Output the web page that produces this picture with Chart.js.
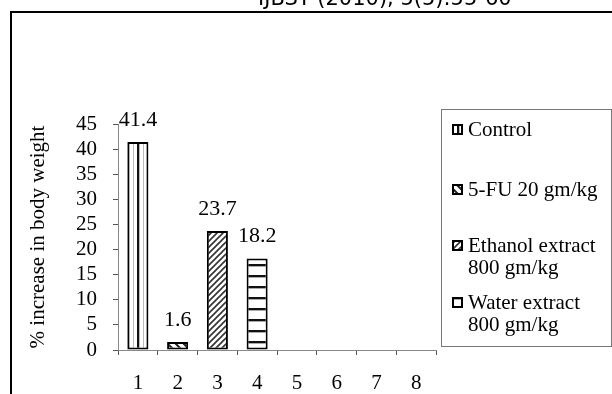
<!DOCTYPE html>
<html>
<head>
<meta charset="utf-8">
<script src="https://cdn.jsdelivr.net/npm/chart.js@4.4.0/dist/chart.umd.min.js"></script>
<style>
  html, body { margin: 0; padding: 0; background: #fff; }
  canvas { display: block; }
</style>
</head>
<body>
<canvas id="weightChart" width="612" height="394"></canvas>
<script>
// data
const categories = ['1', '2', '3', '4', '5', '6', '7', '8'];
const increase = [41.4, 1.6, 23.7, 18.2, null, null, null, null];
const groupNames = [['Control'], ['5-FU 20 gm/kg'], ['Ethanol extract', '800 gm/kg'], ['Water extract', '800 gm/kg']];
const yTicks = [0, 5, 10, 15, 20, 25, 30, 35, 40, 45];
const headerText = 'IJBST (2010), 5(5):55-60';

const serif = '"Liberation Serif", "Times New Roman", serif';

function makePattern(kind) {
    var c = document.createElement('canvas');
    var g = c.getContext('2d');
    if (kind === 'vertical') {
        c.width = 10; c.height = 10;
        g.fillStyle = '#fff'; g.fillRect(0, 0, 10, 10);
        g.fillStyle = '#bbb'; g.fillRect(3, 0, 1, 10); g.fillRect(10 - 1, 0, 1, 10);
        g.fillStyle = '#111'; g.fillRect(7, 0, 2, 10);
    } else if (kind === 'back') {
        c.width = 8; c.height = 8;
        g.fillStyle = '#fff'; g.fillRect(0, 0, 8, 8);
        g.strokeStyle = '#222'; g.lineWidth = 2;
        g.beginPath();
        g.moveTo(-2, -2); g.lineTo(10, 10);
        g.moveTo(-2, 6); g.lineTo(2, 10);
        g.moveTo(6, -2); g.lineTo(10, 2);
        g.stroke();
    } else if (kind === 'forward') {
        c.width = 6; c.height = 6;
        g.fillStyle = '#fff'; g.fillRect(0, 0, 6, 6);
        g.strokeStyle = '#333'; g.lineWidth = 1.6;
        g.beginPath();
        g.moveTo(-1, 7); g.lineTo(7, -1);
        g.moveTo(-1, 1); g.lineTo(1, -1);
        g.moveTo(5, 7); g.lineTo(7, 5);
        g.stroke();
    } else {
        c.width = 11; c.height = 11;
        g.fillStyle = '#fff'; g.fillRect(0, 0, 11, 11);
        g.fillStyle = '#111'; g.fillRect(0, 0, 11, 2);
        g.fillStyle = '#aaa'; g.fillRect(0, 2, 11, 1);
    }
    return g.createPattern(c, 'repeat');
}

var patterns = [makePattern('vertical'), makePattern('back'), makePattern('forward'), makePattern('horizontal')];
var barFills = categories.map((c, i) => patterns[i] || '#fff');

// frame + header text
const framePlugin = {
    id: 'frame',
    beforeDraw(chart) {
        var ctx = chart.ctx;
        ctx.save();
        ctx.fillStyle = '#fff';
        ctx.fillRect(0, 0, chart.width, chart.height);
        ctx.fillStyle = '#000';
        ctx.font = '21px "DejaVu Sans", Verdana, sans-serif';
        ctx.textBaseline = 'alphabetic';
        ctx.fillText(headerText, 258, 5);
        ctx.strokeStyle = '#000';
        ctx.lineWidth = 2;
        ctx.beginPath();
        ctx.moveTo(11, chart.height);
        ctx.lineTo(11, 12);
        ctx.lineTo(chart.width, 12);
        ctx.stroke();
        ctx.restore();
    }
};

// value labels above bars
const valueLabels = {
    id: 'valueLabels',
    afterDatasetsDraw(chart) {
        var ctx = chart.ctx;
        var meta = chart.getDatasetMeta(0);
        ctx.save();
        ctx.font = '22px ' + serif;
        ctx.fillStyle = '#000';
        ctx.textAlign = 'center';
        ctx.textBaseline = 'middle';
        meta.data.forEach((bar, i) => {
            if (increase[i] == null) return;
            ctx.fillText(increase[i].toString(), bar.x, bar.y - 22);
        });
        ctx.restore();
    }
};

// boxed legend on the right
const boxLegend = {
    id: 'boxLegend',
    afterDraw(chart) {
        var ctx = chart.ctx;
        var rows = [130, 190, 246, 303];
        ctx.save();
        ctx.strokeStyle = '#777';
        ctx.lineWidth = 1;
        ctx.strokeRect(441.5, 109.5, 170, 237);
        ctx.font = '21px ' + serif;
        ctx.textBaseline = 'middle';
        groupNames.forEach((lines, i) => {
            var y = rows[i];
            ctx.fillStyle = barFills[i];
            ctx.fillRect(452, y - 6, 11, 11);
            ctx.strokeStyle = '#000';
            ctx.lineWidth = 2;
            ctx.strokeRect(453, y - 5, 9, 9);
            ctx.fillStyle = '#000';
            lines.forEach((t, k) => ctx.fillText(t, 468, y + k * 22));
        });
        ctx.restore();
    }
};

new Chart(document.getElementById('weightChart'), {
    type: 'bar',
    data: {
        labels: categories,
        datasets: [{
            data: increase,
            backgroundColor: barFills,
            borderColor: '#000',
            borderWidth: 2,
            borderSkipped: false,
            categoryPercentage: 1,
            barPercentage: 0.53
        }]
    },
    options: {
        responsive: false,
        animation: false,
        events: [],
        layout: { padding: { top: 124, right: 176, left: 0, bottom: 0 } },
        plugins: {
            legend: { display: false },
            tooltip: { enabled: false }
        },
        scales: {
            x: {
                afterFit: s => { s.height = 44; },
                grid: { display: true, drawOnChartArea: false, drawTicks: true, tickLength: 5, color: '#555' },
                border: { display: true, color: '#888', width: 1 },
                ticks: { color: '#000', font: { family: serif, size: 21 }, padding: 16 }
            },
            y: {
                min: 0,
                max: 45,
                afterFit: s => { s.width = 118; },
                afterBuildTicks: s => { s.ticks = yTicks.map(v => ({ value: v })); },
                grid: { display: true, drawOnChartArea: false, drawTicks: true, tickLength: 5, color: '#555' },
                border: { display: true, color: '#888', width: 1 },
                ticks: { color: '#000', font: { family: serif, size: 21 }, padding: 16, autoSkip: false },
                title: {
                    display: true,
                    text: '% increase in body weight',
                    color: '#000',
                    font: { family: serif, size: 21 },
                    padding: { top: 26, bottom: 0 }
                }
            }
        }
    },
    plugins: [framePlugin, valueLabels, boxLegend]
});
</script>
</body>
</html>
